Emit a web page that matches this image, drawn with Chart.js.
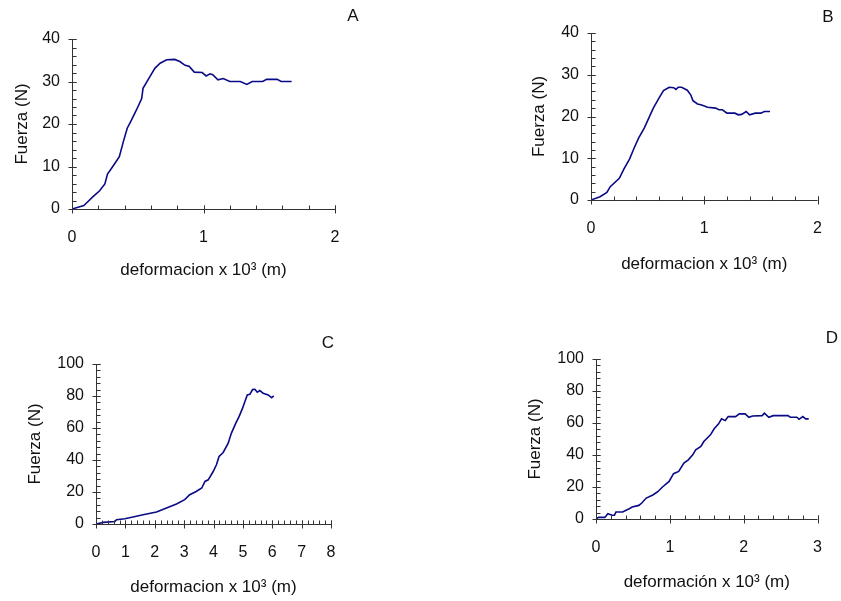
<!DOCTYPE html>
<html>
<head>
<meta charset="utf-8">
<script src="https://cdn.jsdelivr.net/npm/chart.js@4"></script>
<style>
  body { margin: 0; background: #fff; }
  #wrap { position: relative; width: 841px; height: 601px; overflow: hidden; }
  canvas { position: absolute; }
  .tag { position: absolute; font: 17px "Liberation Sans", Arial, sans-serif; color: #111;
         transform: translate(-50%, -50%); }
</style>
</head>
<body>
<div id="wrap">
  <canvas id="cA" width="420" height="300" style="left:0;top:0"></canvas>
  <canvas id="cB" width="421" height="300" style="left:420px;top:0"></canvas>
  <canvas id="cC" width="420" height="301" style="left:0;top:300px"></canvas>
  <canvas id="cD" width="421" height="301" style="left:420px;top:300px"></canvas>
  <div class="tag" style="left:353px;top:16px">A</div>
  <div class="tag" style="left:828px;top:17px">B</div>
  <div class="tag" style="left:328px;top:343px">C</div>
  <div class="tag" style="left:832px;top:338px">D</div>
</div>
<script>
// datos (deformacion x 10^3 m, fuerza N)
const aX = [0, 0.09, 0.12, 0.16, 0.21, 0.25, 0.27, 0.31, 0.36, 0.39, 0.42, 0.45, 0.49, 0.53, 0.54, 0.58, 0.63, 0.67, 0.72, 0.78, 0.82, 0.86, 0.89, 0.93, 0.99, 1.02, 1.05, 1.07, 1.11, 1.15, 1.20, 1.28, 1.33, 1.37, 1.45, 1.48, 1.56, 1.59, 1.67];
const aY = [0, 0.8, 1.7, 2.9, 4.3, 5.9, 8.2, 10, 12.3, 15.8, 19, 20.8, 23.3, 26, 28.4, 30.5, 33.1, 34.3, 35.1, 35.2, 34.7, 33.8, 33.6, 32.2, 32.1, 31.3, 31.8, 31.6, 30.4, 30.7, 30, 30, 29.3, 30, 30, 30.5, 30.5, 30, 30];

const bX = [0, 0.08, 0.14, 0.17, 0.25, 0.29, 0.34, 0.38, 0.42, 0.47, 0.51, 0.55, 0.60, 0.64, 0.69, 0.73, 0.75, 0.77, 0.80, 0.85, 0.88, 0.90, 0.94, 0.97, 1.03, 1.10, 1.13, 1.16, 1.20, 1.27, 1.30, 1.33, 1.37, 1.40, 1.45, 1.50, 1.53, 1.58];
const bY = [0, 0.8, 1.8, 3.2, 5.2, 7.4, 9.8, 12.4, 14.8, 17.2, 19.6, 22, 24.4, 26.2, 27.0, 26.9, 26.5, 27, 27, 26.3, 25.2, 23.8, 23.0, 22.8, 22.2, 22.0, 21.6, 21.6, 20.8, 20.8, 20.4, 20.5, 21.2, 20.4, 20.8, 20.8, 21.2, 21.2];

const cX = [0, 0.25, 0.64, 0.70, 0.98, 1.26, 1.60, 2.06, 2.40, 2.74, 3.02, 3.19, 3.41, 3.6, 3.71, 3.82, 3.99, 4.10, 4.19, 4.33, 4.50, 4.61, 4.76, 4.87, 4.99, 5.07, 5.15, 5.24, 5.33, 5.41, 5.49, 5.58, 5.69, 5.86, 5.98, 6.05];
const cY = [0, 1.0, 1.6, 2.7, 3.3, 4.4, 5.8, 7.5, 10, 12.5, 15.2, 18.3, 20.3, 22.5, 26.6, 27.6, 32.8, 37, 42.2, 44.7, 50.5, 56.8, 63, 67.1, 72.4, 76.5, 80.7, 81.1, 84, 84.2, 82.4, 83.4, 81.7, 80.7, 79, 80.1];

const dX = [0, 0.035, 0.12, 0.16, 0.22, 0.25, 0.27, 0.36, 0.45, 0.49, 0.58, 0.62, 0.68, 0.77, 0.84, 0.90, 0.99, 1.05, 1.12, 1.19, 1.25, 1.31, 1.35, 1.42, 1.46, 1.55, 1.60, 1.66, 1.70, 1.75, 1.79, 1.89, 1.94, 2.02, 2.07, 2.12, 2.25, 2.28, 2.34, 2.40, 2.60, 2.63, 2.72, 2.75, 2.80, 2.84, 2.88];
const dY = [0, 1.0, 1.0, 3.3, 2.3, 2.3, 4.4, 4.4, 6.4, 7.5, 8.5, 10, 13.1, 15, 17.2, 20, 23.5, 28.3, 29.7, 34.9, 37, 40.1, 43.2, 45.3, 48.4, 52.6, 56.4, 59.5, 62.6, 61.5, 64, 64, 65.7, 65.7, 63.6, 64.4, 64.6, 66.1, 63.6, 64.6, 64.6, 63.6, 63.6, 62.3, 64, 62.6, 62.6];

const yTitle = "Fuerza (N)";
const xTitleA = "deformacion x 10³ (m)";
const xTitleD = "deformación x 10³ (m)";

const FONT = '"Liberation Sans", Arial, sans-serif';
const LINE = '#0a0a86';
const AXIS = '#333';

// ejes estilo Excel: marcas mayores cruzadas, menores hacia dentro
const axisTicks = {
  id: 'axisTicks',
  afterDatasetsDraw(chart, args, opts) {
    const { ctx, chartArea: a, scales: { x, y } } = chart;
    const L = Math.round(a.left) + 0.5, B = Math.round(a.bottom) + 0.5;
    ctx.save();
    ctx.strokeStyle = AXIS;
    ctx.lineWidth = 1;
    ctx.beginPath();
    ctx.moveTo(L, a.top); ctx.lineTo(L, B);
    ctx.lineTo(a.right, B);
    const nx = Math.round((x.max - x.min) / opts.xMinor);
    for (let i = 0; i <= nx; i++) {
      const px = Math.round(x.getPixelForValue(x.min + i * opts.xMinor)) + 0.5;
      ctx.moveTo(px, B); ctx.lineTo(px, B - 4);
    }
    const ny = Math.round((y.max - y.min) / opts.yMinor);
    for (let i = 0; i <= ny; i++) {
      const py = Math.round(y.getPixelForValue(y.min + i * opts.yMinor)) + 0.5;
      ctx.moveTo(L, py); ctx.lineTo(L + 4, py);
    }
    x.ticks.forEach(t => {
      const px = Math.round(x.getPixelForValue(t.value)) + 0.5;
      ctx.moveTo(px, B - 4); ctx.lineTo(px, B + 4);
    });
    y.ticks.forEach(t => {
      const py = Math.round(y.getPixelForValue(t.value)) + 0.5;
      ctx.moveTo(L - 4, py); ctx.lineTo(L + 4, py);
    });
    ctx.stroke();
    ctx.restore();
  }
};

function makePanel(id, xs, ys, xTitle, p) {
  const W = p.w, H = p.h;
  const lh = 17 * 1.2;
  const pl = p.yTitleX - lh / 2 - 4;
  const yw = p.left - pl;
  const xh = p.xTitleY - p.bottom + lh / 2;
  new Chart(document.getElementById(id), {
    type: 'line',
    data: {
      datasets: [{
        data: xs.map((v, i) => ({ x: v, y: ys[i] })),
        borderColor: LINE,
        borderWidth: 1.6,
        pointRadius: 0,
        tension: 0,
        fill: false
      }]
    },
    options: {
      responsive: false,
      animation: false,
      devicePixelRatio: 1,
      layout: { padding: { left: pl, right: W - p.right, top: p.top, bottom: H - p.bottom - xh } },
      plugins: {
        legend: { display: false },
        tooltip: { enabled: false },
        axisTicks: { xMinor: p.xMinor, yMinor: p.yMinor }
      },
      scales: {
        x: {
          type: 'linear', min: 0, max: p.xMax,
          grid: { display: false, drawTicks: false }, border: { display: false },
          ticks: { stepSize: 1, padding: 19, color: '#111', font: { family: FONT, size: 16 }, maxRotation: 0 },
          title: { display: true, text: xTitle, color: '#111', font: { family: FONT, size: 17 }, padding: { top: 0, bottom: 0 } },
          afterFit(s) { s.height = xh; }
        },
        y: {
          min: 0, max: p.yMax,
          grid: { display: false, drawTicks: false }, border: { display: false },
          ticks: { stepSize: p.yStep, padding: 12, color: '#111', font: { family: FONT, size: 16 } },
          title: { display: true, text: yTitle, color: '#111', font: { family: FONT, size: 17 }, padding: { top: 4, bottom: 4 } },
          afterFit(s) { s.width = yw; }
        }
      }
    },
    plugins: [axisTicks]
  });
}

makePanel('cA', aX, aY, xTitleA, { w: 420, h: 300, left: 72, right: 335, top: 39, bottom: 209, yTitleX: 22, xTitleY: 270, xMax: 2, yMax: 40, yStep: 10, xMinor: 0.2, yMinor: 2 });
makePanel('cB', bX, bY, xTitleA, { w: 421, h: 300, left: 171, right: 402, top: 33, bottom: 200, yTitleX: 119, xTitleY: 264, xMax: 2, yMax: 40, yStep: 10, xMinor: 0.2, yMinor: 2 });
makePanel('cC', cX, cY, xTitleA, { w: 420, h: 301, left: 96, right: 331, top: 64, bottom: 224, yTitleX: 35.5, xTitleY: 287, xMax: 8, yMax: 100, yStep: 20, xMinor: 0.2, yMinor: 4 });
makePanel('cD', dX, dY, xTitleD, { w: 421, h: 301, left: 176, right: 407, top: 59, bottom: 219, yTitleX: 115, xTitleY: 282.5, xMax: 3, yMax: 100, yStep: 20, xMinor: 0.2, yMinor: 4 });
</script>
</body>
</html>
